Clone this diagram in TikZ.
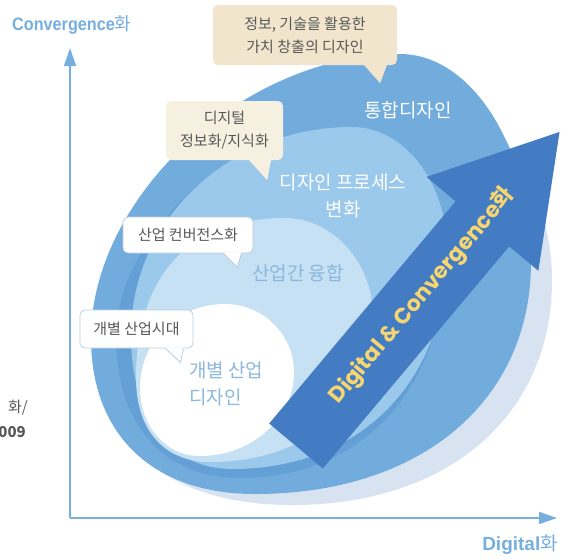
\documentclass[tikz,border=0pt]{standalone}
\usepackage{fontspec}
\usepackage{tikz}
\usetikzlibrary{arrows.meta}
\setmainfont{Noto Sans CJK KR}
\newfontfamily\krfont{Noto Sans CJK KR}
\newfontfamily\axisfont[FakeStretch=0.9]{Liberation Sans}
\newfontfamily\axiswide{Liberation Sans}
\newfontfamily\arrowfont{Poppins}

\definecolor{haloblue}{RGB}{216,227,241}
\definecolor{midblue}{RGB}{114,172,221}
\definecolor{deepband}{RGB}{100,159,213}
\definecolor{procblue}{RGB}{155,201,235}
\definecolor{fuseblue}{RGB}{197,225,243}
\definecolor{arrowblue}{RGB}{68,124,196}
\definecolor{axisblue}{RGB}{118,174,222}
\definecolor{beige}{RGB}{241,230,205}
\definecolor{lightbeige}{RGB}{246,240,224}
\definecolor{boxline}{RGB}{185,205,224}
\definecolor{txtgray}{RGB}{88,88,88}
\definecolor{softblue}{RGB}{140,183,222}
\definecolor{goldtext}{RGB}{246,214,112}

\begin{document}
\begin{tikzpicture}[x=1pt,y=-1pt,>={Triangle[width=12pt,length=18pt]},
    axislabel/.style={text=axisblue,font=\axisfont\bfseries\fontsize{18}{20}\selectfont,inner sep=0pt},
    callout/.style={rounded corners=5pt,fill=beige,text=txtgray,align=center,
                    font=\fontsize{15}{23}\selectfont,inner sep=0pt},
    boxed/.style={callout,fill=white,draw=boxline,line width=0.8pt},
    big/.style={font=\fontsize{19}{27}\selectfont,align=center,inner sep=0pt}]
  \useasboundingbox (0,0) rectangle (567,558);

  \coordinate (origin) at (70,518);
  \coordinate (ytop) at (70,48);
  \coordinate (xend) at (557,518);
  \draw[->,axisblue,line width=1.6pt] (origin) -- (ytop);
  \draw[->,axisblue,line width=1.6pt] (origin) -- (xend);

  \node[axislabel,anchor=base west] (conv) at (12,30) {Convergence{\krfont\mdseries 화}};
  \node[axislabel,anchor=base east,font=\axiswide\bfseries\fontsize{19}{20}\selectfont] (digi) at (558,550) {Digital{\krfont\mdseries 화}};
  \node[anchor=east,text=txtgray,font=\fontsize{15}{18}\selectfont,inner sep=0pt] (yr1) at (28,408) {화/};
  \node[anchor=east,text=txtgray,font=\bfseries\fontsize{15}{18}\selectfont,inner sep=0pt] (yr2) at (26,432) {009};

  % swoosh layers
  \fill[haloblue] (395,72) .. controls (470,72) and (552,170) .. (552,280)
    .. controls (552,415) and (449,505) .. (292,505)
    .. controls (175,505) and (104,451) .. (104,362)
    .. controls (104,213) and (254,72) .. cycle;
  \fill[midblue] (400,54) .. controls (472,54) and (531,148) .. (531,262)
    .. controls (531,401) and (421,494) .. (255,494)
    .. controls (153,494) and (91,435) .. (91,338)
    .. controls (91,196) and (245,54) .. cycle;
  \fill[deepband] (320,132) .. controls (389,132) and (445,186) .. (445,252)
    .. controls (445,388) and (363,478) .. (240,478)
    .. controls (163,478) and (116,424) .. (116,336)
    .. controls (116,240) and (230,132) .. cycle;
  \fill[procblue] (352,127) .. controls (404,127) and (447,182) .. (447,250)
    .. controls (447,381) and (361,469) .. (232,469)
    .. controls (170,469) and (131,417) .. (131,335)
    .. controls (131,218) and (231,127) .. cycle;
  \fill[fuseblue] (285,218) .. controls (333,218) and (373,263) .. (373,316)
    .. controls (373,404) and (308,462) .. (210,462)
    .. controls (165,462) and (136,431) .. (136,378)
    .. controls (136,275) and (190,218) .. cycle;
  \fill[white] (225,304) .. controls (263,304) and (294,335) .. (294,372)
    .. controls (294,418) and (252,456) .. (200,456)
    .. controls (165,456) and (140,425) .. (140,388)
    .. controls (140,342) and (176,304) .. cycle;

  \begin{scope}[shift={(296,446)},rotate=50]
    \fill[arrowblue] (0,-35) -- (290,-35) -- (290,-73) -- (410,0) -- (290,73) -- (290,35) -- (0,35) -- cycle;
    \node[rotate=50,text=goldtext,inner sep=0pt,font=\arrowfont\bfseries\fontsize{22}{24}\selectfont]
      (dc) at (196,0) {Digital \& Convergence{\krfont\bfseries 화}};
  \end{scope}

  \node[big,text=white] (integ) at (408,110) {통합디자인};
  \node[big,text=white] (proc) at (343,196) {디자인 프로세스\\변화};
  \node[big,text=softblue] (fuse) at (298,273) {산업간 융합};
  \node[big,text=softblue,align=left,anchor=west] (indiv) at (189,384) {개별 산업\\디자인};

  \node[callout,minimum width=184pt,minimum height=60pt] (c1) at (305,35) {정보, 기술을 활용한\\가치 창출의 디자인};
  \fill[beige] ([xshift=-34pt,yshift=1pt]c1.south east) -- ([xshift=-17pt,yshift=-18pt]c1.south east)
    -- ([xshift=-10pt,yshift=1pt]c1.south east) -- cycle;
  \node[callout,fill=lightbeige,minimum width=117pt,minimum height=59pt] (c2) at (224.5,130.5) {디지털\\정보화/지식화};
  \fill[lightbeige] ([xshift=-35pt,yshift=1pt]c2.south east) -- ([xshift=-16pt,yshift=-20pt]c2.south east)
    -- ([xshift=-12pt,yshift=1pt]c2.south east) -- cycle;
  \node[boxed,minimum width=130pt,minimum height=36pt] (c3) at (188,235) {산업 컨버전스화};
  \fill[white] ([xshift=-30pt,yshift=1pt]c3.south east) -- ([xshift=-16pt,yshift=-14pt]c3.south east)
    -- ([xshift=-12pt,yshift=1pt]c3.south east) -- cycle;
  \draw[boxline,line width=0.8pt] ([xshift=-30pt]c3.south east) -- ([xshift=-16pt,yshift=-14pt]c3.south east)
    -- ([xshift=-12pt]c3.south east);
  \node[boxed,minimum width=113pt,minimum height=38pt] (c4) at (136.5,329) {개별 산업시대};
  \fill[white] ([xshift=-28pt,yshift=1pt]c4.south east) -- ([xshift=-13pt,yshift=-14pt]c4.south east)
    -- ([xshift=-10pt,yshift=1pt]c4.south east) -- cycle;
  \draw[boxline,line width=0.8pt] ([xshift=-28pt]c4.south east) -- ([xshift=-13pt,yshift=-14pt]c4.south east)
    -- ([xshift=-10pt]c4.south east);
\end{tikzpicture}
\end{document}
